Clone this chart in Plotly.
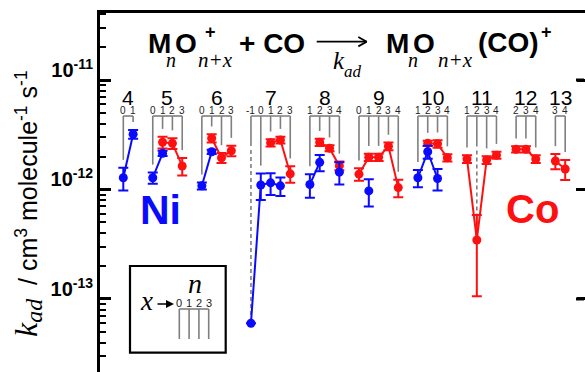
import math
import plotly.graph_objects as go

# ---------------- data (k_ad in units of 1e-12 cm^3 molecule^-1 s^-1) ----------------
groups = [4, 5, 6, 7, 8, 9, 10, 11, 12, 13]
group_x = [[0, 1], [0, 1, 2, 3], [0, 1, 2, 3], [-1, 0, 1, 2, 3], [1, 2, 3, 4],
           [0, 1, 2, 3, 4], [1, 2, 3, 4], [1, 2, 3, 4], [2, 3, 4], [3, 4]]
ni_k = [[1.28, 3.20], [1.28, 2.14, None, None], [1.08, 2.21, None, None],
        [0.060, 1.10, 1.15, 1.08, None], [1.11, 1.77, None, 1.44],
        [None, 0.97, None, None, None], [1.28, 2.21, 1.26, None],
        [None, None, None, None], [None, None, None], [None, None]]
ni_err = [[0.30, 0.30], [0.15, 0.12, None, None], [0.08, 0.10, None, None],
          [None, 0.30, 0.26, 0.21, None], [0.27, 0.30, None, 0.33],
          [None, 0.27, None, None, None], [0.23, 0.30, 0.28, None],
          [None, None, None, None], [None, None, None], [None, None]]
co_k = [[None, None], [None, 2.70, 2.64, 1.64], [None, 2.94, 1.95, 2.26],
        [None, None, 2.67, 2.83, 1.39], [None, 2.70, 2.38, 1.65],
        [1.38, 1.97, 1.97, 2.48, 1.04], [None, 2.64, 2.61, 1.95],
        [1.90, 0.346, 1.86, 2.06], [2.33, 2.33, 1.90], [1.82, 1.54]]
co_err = [[None, None], [None, 0.33, 0.30, 0.30], [None, 0.25, 0.20, 0.25],
          [None, None, 0.20, 0.20, 0.24], [None, 0.20, 0.15, 0.15],
          [0.18, 0.15, 0.15, 0.20, 0.19], [None, 0.15, 0.20, 0.15],
          [0.15, 0.24, 0.15, 0.15], [0.15, 0.15, 0.15], [0.29, 0.32]]
y_tick_vals = [1e-11, 1e-12, 1e-13]
y_tick_text = ["<b>10<sup>-11</sup></b>", "<b>10<sup>-12</sup></b>", "<b>10<sup>-13</sup></b>"]
inset_x = [0, 1, 2, 3]
UNIT = 1e-12

# ---------------- layout constants (page pixel coordinates) ----------------
PAGE_OFF = 0                       # body margin removed by post_script below
PX_L, PX_T, PX_R, PX_B = 100, 13, 585, 372   # plot area on the page
FIG_W, FIG_H = PX_R - PAGE_OFF, PX_B - PAGE_OFF
PW, PH = PX_R - PX_L, PX_B - PX_T
Y_RANGE = [-13.667, -10.388]
X0_PX, SLOT_PX = 123.3, 9.82
X_RANGE = [(PX_L - X0_PX) / SLOT_PX, (PX_R - X0_PX) / SLOT_PX]
SANS = "Liberation Sans, Arial, sans-serif"
SERIF = "Liberation Serif, Times New Roman, serif"
RED, BLUE, GRAY = "#ff1010", "#0a0aff", "#7f7f7f"


def pxx(px):
    return (px - PX_L) / PW


def pxy(py):
    return (PX_B - py) / PH


def py_to_val(py):
    return 10 ** (Y_RANGE[1] - (py - PX_T) / PH * (Y_RANGE[1] - Y_RANGE[0]))


def val_to_py(v):
    return PX_T + (Y_RANGE[1] - math.log10(v)) / (Y_RANGE[1] - Y_RANGE[0]) * PH


# ---------------- build flat series on slot positions ----------------
xs, ni_y, ni_e, co_y, co_e = [], [], [], [], []
group_slots = []
slot = 0
for xl, nk, ne, ck, ce in zip(group_x, ni_k, ni_err, co_k, co_err):
    sl = list(range(slot, slot + len(xl)))
    group_slots.append(sl)
    for s, a, b, c, d in zip(sl, nk, ne, ck, ce):
        xs.append(s)
        ni_y.append(None if a is None else a * UNIT)
        ni_e.append(None if (a is None or b is None) else b * UNIT)
        co_y.append(None if c is None else c * UNIT)
        co_e.append(None if (c is None or d is None) else d * UNIT)
    xs.append(slot + len(xl))
    for arr in (ni_y, ni_e, co_y, co_e):
        arr.append(None)
    slot += len(xl) + 1

# ---------------- bracket decorations ----------------
TOP_PY = 116
top_val = py_to_val(TOP_PY)
bx, by, dx, dy = [], [], [], []
for sl, nk, ne, ck, ce in zip(group_slots, ni_k, ni_err, co_k, co_err):
    bx += [sl[0], sl[-1], None]
    by += [top_val, top_val, None]
    ends, outl = [], []
    for i, s in enumerate(sl):
        vals = [(v, e or 0) for v, e in ((nk[i], ne[i]), (ck[i], ce[i])) if v is not None]
        vmax = max(v for v, e in vals)
        if vmax < 0.5:
            outl.append((s, vmax))
            ends.append(None)
        else:
            ends.append(val_to_py(max(v + e for v, e in vals) * UNIT * 1.18))
    good = [e for e in ends if e is not None]
    for i, s in enumerate(sl):
        if ends[i] is not None:
            bx += [s, s, None]
            by += [top_val, py_to_val(ends[i]), None]
    for s, v in outl:
        mid = sum(good) / len(good)
        bx += [s, s, None]
        by += [top_val, py_to_val(mid), None]
        dx += [s, s, None]
        dy += [py_to_val(mid + 4), v * UNIT, None]

fig = go.Figure()
fig.add_trace(go.Scatter(x=bx, y=by, mode="lines", line=dict(color=GRAY, width=1.6),
                         hoverinfo="skip", showlegend=False))
fig.add_trace(go.Scatter(x=dx, y=dy, mode="lines", line=dict(color=GRAY, width=1.6, dash="4px,3px"),
                         hoverinfo="skip", showlegend=False))
fig.add_trace(go.Scatter(x=xs, y=co_y, mode="lines+markers", name="Co", connectgaps=False,
                         yaxis="y2",
                         line=dict(color=RED, width=2), marker=dict(size=9, color=RED),
                         error_y=dict(type="data", array=co_e, color=RED, thickness=2, width=5),
                         showlegend=False))
fig.add_trace(go.Scatter(x=xs, y=ni_y, mode="lines+markers", name="Ni", connectgaps=False,
                         yaxis="y2",
                         line=dict(color=BLUE, width=2), marker=dict(size=9, color=BLUE),
                         error_y=dict(type="data", array=ni_e, color=BLUE, thickness=2, width=5),
                         showlegend=False))

ann = []
# group labels n and x labels
for g, xl, sl in zip(groups, group_x, group_slots):
    ann.append(dict(x=(sl[0] + sl[-1]) / 2, y=pxy(98), xref="x", yref="paper", text=str(g),
                    showarrow=False, xanchor="center", yanchor="middle", borderpad=0,
                    font=dict(family=SANS, size=21, color="black")))
    for xv, s in zip(xl, sl):
        ann.append(dict(x=s, y=pxy(110.5), xref="x", yref="paper", text=str(xv), showarrow=False,
                        xanchor="center", yanchor="middle", borderpad=0,
                        font=dict(family=SANS, size=10, color="#222")))


def t(text, px, py, size, family=SANS, color="black", xanchor="center"):
    ann.append(dict(x=pxx(px), y=pxy(py), xref="paper", yref="paper", text=text,
                    showarrow=False, xanchor=xanchor, yanchor="middle", borderpad=0,
                    font=dict(family=family, size=size, color=color)))


# heading
t("<b>M</b>", 159.5, 43.3, 28)
t("<i>n</i>", 170.5, 59.5, 20, SERIF)
t("<b>O</b>", 185.5, 43.3, 28)
t("<b>+</b>", 210.5, 32, 18)
t("<i>n+x</i>", 215.5, 59.5, 21, SERIF)
t("<b>+ CO</b>", 272, 43.5, 28)
t("<i>k</i>", 338.5, 60, 25, SERIF)
t("<i>ad</i>", 353.3, 71, 17, SERIF)
t("<b>M</b>", 397.5, 43.3, 28)
t("<i>n</i>", 413.3, 59.5, 20, SERIF)
t("<b>O</b>", 424, 43.3, 28)
t("<i>n+x</i>", 455, 59.5, 21, SERIF)
t("<b>(CO)</b>", 508.3, 42.5, 28)
t("<b>+</b>", 546.7, 31.7, 18)
# metal labels
t("<b>Ni</b>", 160, 210, 41, color=BLUE)
t("<b>Co</b>", 532.5, 209, 40, color=RED)
# y-axis title
ann.append(dict(x=pxx(27), y=pxy(204), xref="paper", yref="paper", textangle=-90, showarrow=False,
                xanchor="center", yanchor="middle",
                text=("<span style='font-family:Liberation Serif;font-size:32px'><i>k</i></span>"
                      "<sub><span style='font-family:Liberation Serif;font-size:24px'><i>ad</i></span></sub>"
                      "  / cm<sup>3</sup> molecule<sup>-1</sup> s<sup>-1</sup>"),
                font=dict(family=SANS, size=25, color="black")))
# inset
t("<i>x</i>", 146.7, 301, 27, SERIF)
t("<i>n</i>", 195, 283.6, 28, SERIF)
for i, xv in enumerate(inset_x):
    t(str(xv), 179.3 + 9.8 * i, 303, 11, color="#222")
ann.append(dict(x=pxx(174), y=pxy(304), xref="paper", yref="paper", ax=-18, ay=0, text="",
                showarrow=True, arrowhead=2, arrowsize=1, arrowwidth=1.6, arrowcolor="black"))

shapes = []


def seg(x0, y0, x1, y1, color="black", width=1.6):
    shapes.append(dict(type="line", xref="paper", yref="paper", x0=pxx(x0), y0=pxy(y0),
                       x1=pxx(x1), y1=pxy(y1), line=dict(color=color, width=width)))


# reaction arrow
seg(316.7, 41.7, 366.7, 41.7, width=1.8)
seg(358.3, 37.0, 366.7, 41.7, width=1.8)
seg(358.3, 46.4, 366.7, 41.7, width=1.8)
# inset box and bracket
shapes.append(dict(type="rect", xref="paper", yref="paper", x0=pxx(130), y0=pxy(266),
                   x1=pxx(225.7), y1=pxy(352.7), line=dict(color="black", width=2.2)))
seg(179.3, 309, 179.3 + 9.8 * 3, 309, GRAY)
for i in range(len(inset_x)):
    seg(179.3 + 9.8 * i, 309, 179.3 + 9.8 * i, 339, GRAY)
# right-hand major ticks (pointing inward)
for v in y_tick_vals:
    seg(PX_R - 9, val_to_py(v), PX_R - 1, val_to_py(v), width=3)

fig.update_layout(
    width=FIG_W, height=FIG_H,
    margin=dict(l=PX_L - PAGE_OFF, r=0, t=PX_T - PAGE_OFF, b=0, pad=0, autoexpand=False),
    plot_bgcolor="white", paper_bgcolor="white",
    annotations=ann, shapes=shapes, showlegend=False,
    xaxis=dict(range=X_RANGE, side="top", showline=True, linewidth=3, linecolor="black",
               showgrid=False, zeroline=False, showticklabels=False, ticks=""),
    yaxis=dict(type="log", range=Y_RANGE, showline=True, linewidth=3, linecolor="black",
               showgrid=False, zeroline=False, ticks="inside", ticklen=11, tickwidth=2.5,
               tickcolor="black", tickvals=y_tick_vals, ticktext=y_tick_text,
               tickfont=dict(family=SANS, size=20, color="black"), ticklabelshift=-10,
               minor=dict(ticks="inside", ticklen=6, tickwidth=2, tickcolor="black", dtick="D1",
                          showgrid=False)),
    yaxis2=dict(type="log", range=Y_RANGE, overlaying="y", side="right", anchor="x",
                showline=False, showgrid=False, zeroline=False, ticks="inside", ticklen=8,
                tickwidth=3, tickcolor="black", tickvals=y_tick_vals, showticklabels=False),
)

fig.write_html("out.html", config={"displayModeBar": False},
               post_script="document.body.style.margin='0';document.body.style.overflow='hidden';")
